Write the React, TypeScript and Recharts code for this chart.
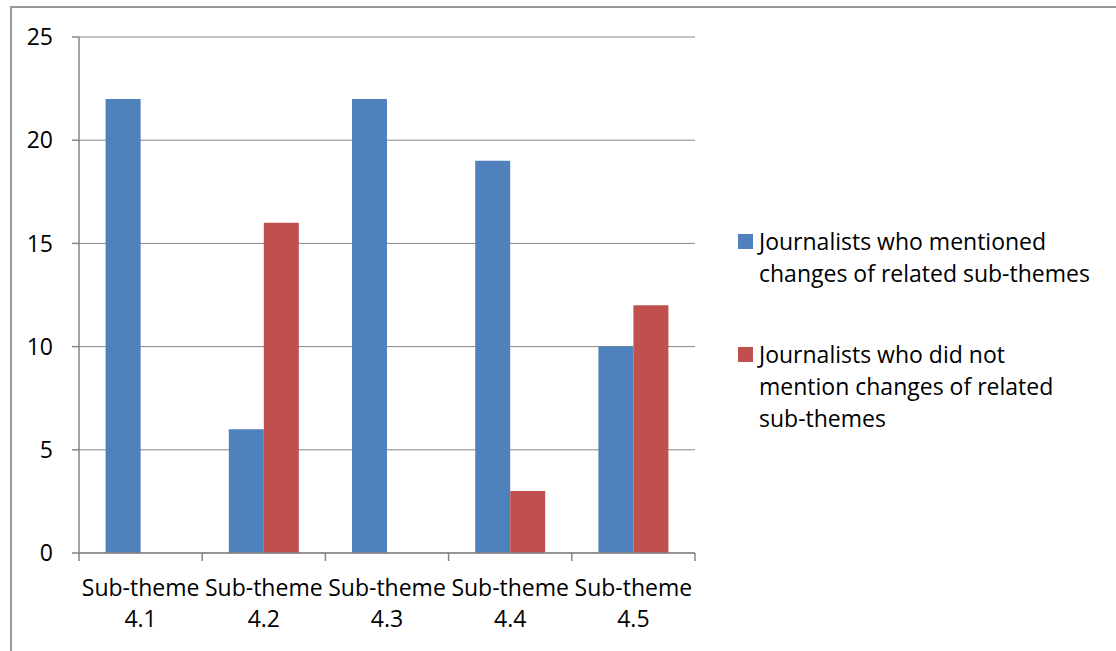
import { BarChart, Bar, XAxis, YAxis, CartesianGrid, Legend } from "recharts";

const categories = ["4.1", "4.2", "4.3", "4.4", "4.5"];
const mentioned = [22, 6, 22, 19, 10];
const notMentioned = [0, 16, 0, 3, 12];
const yTicks = [0, 5, 10, 15, 20, 25];

const seriesNames = [
  "Journalists who mentioned changes of related sub-themes",
  "Journalists who did not mention changes of related sub-themes",
];
const legendLines = [
  ["Journalists who mentioned", "changes of related sub-themes"],
  ["Journalists who did not", "mention changes of related", "sub-themes"],
];

const COLORS = ["#4F81BD", "#C0504D"];
const GRID = "#868686";
const FONT = "'Open Sans', sans-serif";

const data = categories.map((c, i) => ({
  name: c,
  mentioned: mentioned[i],
  notMentioned: notMentioned[i],
}));

// Excel puts the tick marks between categories, so draw them at the band edges
function CategoryTick(props: any) {
  const { x, y, payload, index, visibleTicksCount } = props;
  const half = payload.offset || 0;
  const isLast = index === visibleTicksCount - 1;
  return (
    <g>
      <line x1={x - half} x2={x - half} y1={y} y2={y + 8} stroke={GRID} strokeWidth={1.5} />
      {isLast && (
        <line x1={x + half} x2={x + half} y1={y} y2={y + 8} stroke={GRID} strokeWidth={1.5} />
      )}
      <text x={x} y={y + 43} textAnchor="middle" fill="#000" fontSize={23} fontFamily={FONT}>
        Sub-theme
      </text>
      <text x={x} y={y + 74} textAnchor="middle" fill="#000" fontSize={23} fontFamily={FONT}>
        {payload.value}
      </text>
    </g>
  );
}

function LegendBox() {
  return (
    <div style={{ fontFamily: FONT, fontSize: 23, lineHeight: "32px", color: "#000" }}>
      {legendLines.map((lines, i) => (
        <div key={i} style={{ position: "relative", paddingLeft: 21, marginTop: i === 0 ? 0 : 49 }}>
          <span
            style={{
              position: "absolute",
              left: 0,
              top: 9,
              width: 15,
              height: 15,
              background: COLORS[i],
            }}
          />
          {lines.map((l, j) => (
            <div key={j} style={{ whiteSpace: "nowrap" }}>{l}</div>
          ))}
        </div>
      ))}
    </div>
  );
}

export default function App() {
  return (
    <div style={{ position: "absolute", left: 0, top: 0, width: 1116, height: 651, overflow: "hidden", background: "#fff" }}>
      <div
        style={{
          position: "absolute",
          left: 10,
          top: 6,
          width: 1200,
          height: 700,
          border: "2px solid #999",
          boxSizing: "border-box",
        }}
      />
      <BarChart
        width={1116}
        height={651}
        data={data}
        margin={{ top: 37, right: 421, bottom: 0, left: 0 }}
        barGap={0}
        barCategoryGap="21.6%"
        style={{ position: "absolute", left: 0, top: 0 }}
      >
        <CartesianGrid horizontal vertical={false} stroke={GRID} strokeWidth={1} />
        <XAxis
          dataKey="name"
          height={98}
          axisLine={{ stroke: GRID, strokeWidth: 1.5 }}
          tickLine={false}
          tickSize={0}
          tickMargin={0}
          interval={0}
          tick={<CategoryTick />}
        />
        <YAxis
          width={79}
          domain={[0, 25]}
          ticks={yTicks}
          tickSize={7}
          tickMargin={19}
          tickLine={{ stroke: GRID, strokeWidth: 1.5 }}
          axisLine={{ stroke: GRID, strokeWidth: 1.5 }}
          tick={{ fill: "#000", fontSize: 23, fontFamily: FONT }}
        />
        <Legend
          layout="vertical"
          align="center"
          verticalAlign="middle"
          wrapperStyle={{ left: 738, top: 225, width: 370 }}
          content={() => <LegendBox />}
        />
        <Bar dataKey="mentioned" name={seriesNames[0]} fill={COLORS[0]} isAnimationActive={false} />
        <Bar dataKey="notMentioned" name={seriesNames[1]} fill={COLORS[1]} isAnimationActive={false} />
      </BarChart>
    </div>
  );
}
